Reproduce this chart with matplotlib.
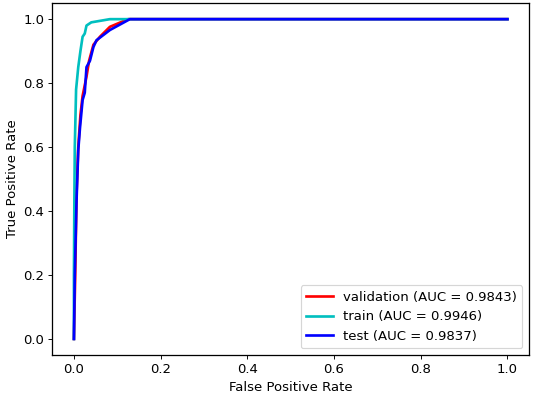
import matplotlib

matplotlib.use("Agg")
import matplotlib.pyplot as plt

# ROC points
val_fpr = [0.0, 0.003, 0.006, 0.010, 0.015, 0.020, 0.029, 0.035, 0.045, 0.060, 0.083, 0.125, 1.0]
val_tpr = [0.0, 0.20, 0.45, 0.60, 0.70, 0.76, 0.82, 0.87, 0.92, 0.945, 0.976, 1.0, 1.0]

train_fpr = [0.0, 0.0, 0.001, 0.002, 0.005, 0.010, 0.015, 0.020, 0.025, 0.029, 0.040, 0.083, 1.0]
train_tpr = [0.0, 0.20, 0.43, 0.60, 0.78, 0.85, 0.90, 0.945, 0.955, 0.98, 0.99, 1.0, 1.0]

test_fpr = [0.0, 0.002, 0.006, 0.010, 0.014, 0.020, 0.025, 0.029, 0.037, 0.045, 0.052, 0.083, 0.129, 1.0]
test_tpr = [0.0, 0.20, 0.43, 0.59, 0.66, 0.747, 0.77, 0.85, 0.87, 0.913, 0.934, 0.966, 1.0, 1.0]

auc_val = 0.9843
auc_train = 0.9946
auc_test = 0.9837

plt.rcParams["font.size"] = 11.5
plt.rcParams["axes.linewidth"] = 1.1

fig = plt.figure(figsize=(6.4, 4.766), dpi=83.3)
fig.subplots_adjust(left=0.098, right=0.9925, bottom=0.106, top=0.992)
ax = fig.add_subplot(111)

ax.plot(val_fpr, val_tpr, color="r", lw=2.3, label=f"validation (AUC = {auc_val:.4f})")
ax.plot(train_fpr, train_tpr, color="c", lw=2.3, label=f"train (AUC = {auc_train:.4f})")
ax.plot(test_fpr, test_tpr, color="b", lw=2.3, label=f"test (AUC = {auc_test:.4f})")

ax.set_xlabel("False Positive Rate")
ax.set_ylabel("True Positive Rate")
ax.legend(loc="lower right")

fig.savefig("out.png", dpi=83.3)
